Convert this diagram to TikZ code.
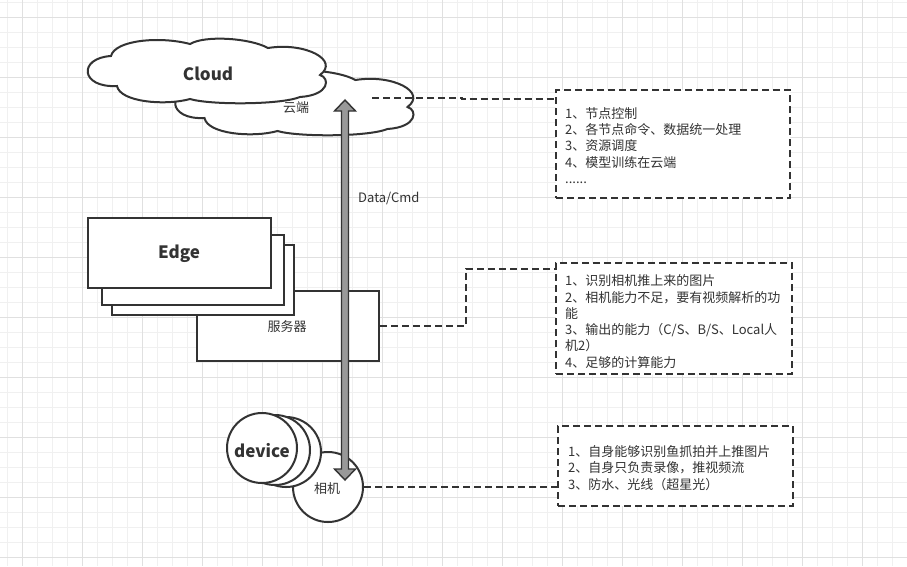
\documentclass[tikz,border=0pt]{standalone}
\usepackage{fontspec}
\setmainfont{Noto Sans CJK SC}
\usetikzlibrary{calc}
\definecolor{ink}{HTML}{333333}
\definecolor{gridminor}{HTML}{F0F0F0}
\definecolor{gridmajor}{HTML}{E0E0E0}
\definecolor{arrowfill}{HTML}{999999}
\begin{document}
\begin{tikzpicture}[x=1pt,y=-1pt,
  shapeline/.style={draw=ink, line width=2pt, fill=white},
  plainbox/.style={shapeline, rectangle, inner sep=0pt, anchor=north west},
  notebox/.style={draw=ink, line width=2pt, dash pattern=on 7pt off 4pt, rectangle, inner sep=0pt, anchor=north west, fill=white},
  link/.style={draw=ink, line width=2pt, dash pattern=on 7pt off 4pt},
  roundthing/.style={shapeline, circle, inner sep=0pt, minimum size=70pt},
  small/.style={font=\fontsize{13}{16.3}\selectfont, text=ink, inner sep=0pt},
  big/.style={font=\fontsize{17}{20}\selectfont\bfseries, text=ink, inner sep=0pt},
  notetext/.style={small, align=left, anchor=west},
  bigarrow/.style={draw=ink, line width=1.4pt, fill=arrowfill},
  cloudblob/.pic={
    \path[shapeline] (111,56) .. controls (115,40) and (160,36) .. (190,44)
      .. controls (205,35) and (250,38) .. (268,48)
      .. controls (305,42) and (340,60) .. (320,75)
      .. controls (330,78) and (330,95) .. (300,97)
      .. controls (280,105) and (210,105) .. (190,99)
      .. controls (165,106) and (120,102) .. (117,86)
      .. controls (80,88) and (78,58) .. (111,56) -- cycle;
  },
]
\useasboundingbox (0,0) rectangle (907,566);
\fill[white] (0,0) rectangle (907,566);
% grid
\foreach \gx in {7,22,...,907} \draw[gridminor, line width=1pt] (\gx,0) -- (\gx,566);
\foreach \gy in {2,17,...,566} \draw[gridminor, line width=1pt] (0,\gy) -- (907,\gy);
\foreach \gx in {22,82,...,862} \draw[gridmajor, line width=1pt] (\gx,0) -- (\gx,566);
\foreach \gy in {17,77,...,557} \draw[gridmajor, line width=1pt] (0,\gy) -- (907,\gy);

% clouds
\pic at (87.5,32) {cloudblob};
\pic at (0,0) {cloudblob};
\node[big] (cloudlabel) at (208,74) {Cloud};
\node[small] (yunduan) at (296,107.5) {云端};

% edge server stack
\node[plainbox, minimum width=182pt, minimum height=70pt] (server) at (196,290) {};
\node[small] (serverlabel) at (287,327) {服务器};
\node[plainbox, minimum width=182pt, minimum height=70pt] (edge3) at (111,244) {};
\node[plainbox, minimum width=182pt, minimum height=70pt] (edge2) at (101,234) {};
\node[plainbox, minimum width=183pt, minimum height=70pt] (edge1) at (87,217) {};
\node[big] (edgelabel) at (179,253.5) {Edge};

% camera and devices
\node[roundthing] (camera) at (328,487) {};
\node[small] (cameralabel) at (327,489) {相机};
\node[roundthing] (dev3) at (286,452) {};
\node[roundthing] (dev2) at (275,450) {};
\node[roundthing] (dev1) at (262,448) {};
\node[big] (devlabel) at (262,451) {device};

% data arrow
\coordinate (atop) at (345,100);
\coordinate (abot) at (345,480);
\draw[bigarrow] (atop) -- ($(atop)+(10.5,11)$) -- ($(atop)+(3.5,11)$)
  -- ($(abot)+(3.5,-11)$) -- ($(abot)+(10.5,-11)$) -- (abot)
  -- ($(abot)+(-10.5,-11)$) -- ($(abot)+(-3.5,-11)$)
  -- ($(atop)+(-3.5,11)$) -- ($(atop)+(-10.5,11)$) -- cycle;
\node[small, anchor=west] (datalabel) at (358,198) {Data/Cmd};

% note boxes
\node[notebox, minimum width=234pt, minimum height=108pt] (note1) at (555,89) {};
\node[notebox, minimum width=236pt, minimum height=111pt] (note2) at (555,262) {};
\node[notebox, minimum width=235pt, minimum height=80pt] (note3) at (557,425) {};

\node[notetext] (note1text) at ($(note1.west)+(10,1.5)$) {1、节点控制\\2、各节点命令、数据统一处理\\3、资源调度\\4、模型训练在云端\\......};
\node[notetext] (note2text) at ($(note2.west)+(10,3)$) {1、识别相机推上来的图片\\2、相机能力不足，要有视频解析的功\\能\\3、输出的能力（C/S、B/S、Local人\\机2）\\4、足够的计算能力};
\node[notetext] (note3text) at ($(note3.west)+(11,2)$) {1、自身能够识别鱼抓拍并上推图片\\2、自身只负责录像，推视频流\\3、防水、光线（超星光）};

% connectors
\coordinate (cloudport) at (372,97.5);
\coordinate (jog1) at (462,99);
\draw[link] (cloudport) -| (jog1) -- (jog1 -| note1.west);
\coordinate (jog2) at (466,269);
\draw[link] (server.east) -| (jog2) -- (jog2 -| note2.west);
\draw[link] (camera.east) -- (camera.east -| note3.west);
\end{tikzpicture}
\end{document}
